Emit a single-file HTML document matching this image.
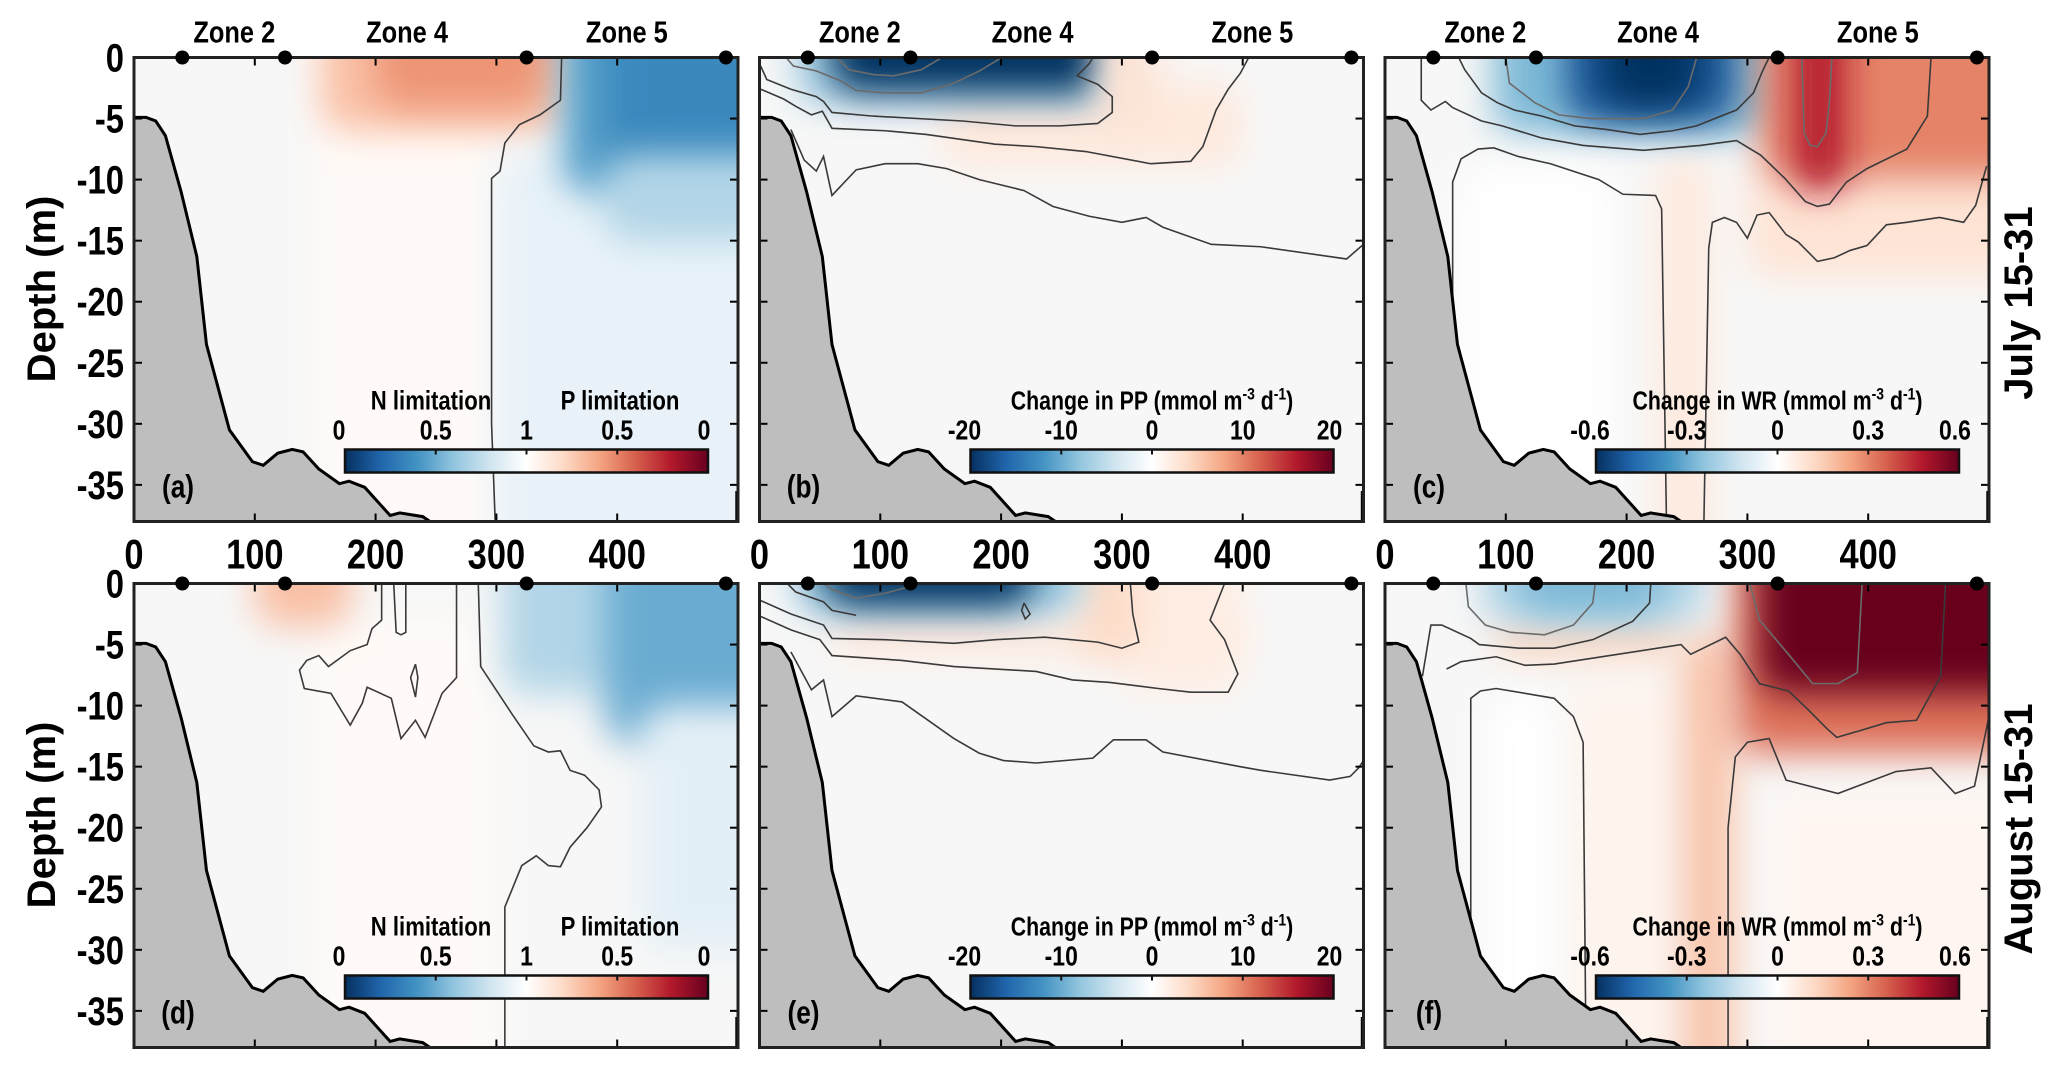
<!DOCTYPE html>
<html><head><meta charset="utf-8">
<style>
html,body{margin:0;padding:0;background:#fff;}
svg{display:block;font-family:"Liberation Sans",Arial,sans-serif;font-weight:bold;}
</style></head>
<body>
<svg id="fig" width="2067" height="1073" viewBox="0 0 2067 1073" xmlns="http://www.w3.org/2000/svg">
<defs>
<filter id="blur" filterUnits="userSpaceOnUse" x="-200" y="-200" width="2500" height="1500"><feGaussianBlur stdDeviation="18"/></filter>
<linearGradient id="cmap" x1="0" x2="1" y1="0" y2="0">
<stop offset="0" stop-color="#053061"/><stop offset="0.1" stop-color="#2166ac"/><stop offset="0.2" stop-color="#4393c3"/><stop offset="0.3" stop-color="#92c5de"/><stop offset="0.4" stop-color="#d1e5f0"/><stop offset="0.5" stop-color="#ffffff"/><stop offset="0.6" stop-color="#fddbc7"/><stop offset="0.7" stop-color="#f4a582"/><stop offset="0.8" stop-color="#d6604d"/><stop offset="0.9" stop-color="#b2182b"/><stop offset="1" stop-color="#67001f"/>
</linearGradient>
</defs>
</svg>
<script>
// ---- axis data ----
const xTicks=[0,100,200,300,400];
const yTicks=[0,-5,-10,-15,-20,-25,-30,-35];
const zoneDots=[40,125,325,490];
const zoneNames=["Zone 2","Zone 4","Zone 5"];
const zoneLabelX=[83,226,408];
const bathyX=[0,10,18,26,39,52,60,79,98,107,119,131,140,153,170,178,191,212,220,239,245];
const bathyD=[-4.9,-4.9,-5.2,-6.4,-11,-16.3,-23.5,-30.5,-33.1,-33.4,-32.4,-32.1,-32.3,-33.7,-34.9,-34.7,-35.2,-37.5,-37.3,-37.6,-38];
const panelLetters=["(a)","(b)","(c)","(d)","(e)","(f)"];
const cbTicksA=["0","0.5","1","0.5","0"];
const cbTicksPP=["-20","-10","0","10","20"];
const cbTicksWR=["-0.6","-0.3","0","0.3","0.6"];
// ---- field blobs: [x0,x1,d0,d1,value] ----
const fieldA=[[150,300,0,-38,0.03],[155,355,0,-6,0.3],[200,340,0,-4,0.45],[300,500,-8,-38,-0.1],[355,500,0,-11,-0.55],[390,500,0,-9,-0.65],[390,500,-8,-15,-0.3]];
const fieldB=[[150,400,-2,-9,0.12],[30,300,0,-3.8,-0.35],[60,285,0,-2.8,-1],[280,330,0,-6,0.15]];
const fieldC=[[225,270,-8,-38,0.12],[300,500,-9,-18,0.15],[90,325,0,-6.2,-0.45],[150,290,0,-5.3,-0.85],[180,260,0,-4,-1],[310,500,0,-10,0.5],[340,380,0,-11,0.8],[60,190,-9,-38,-0.001]];
const fieldD=[[150,300,-3,-38,0.03],[100,180,0,-3.5,0.3],[305,500,0,-9,-0.3],[390,500,0,-13,-0.5],[420,500,-10,-30,-0.12]];
const fieldE=[[60,400,-2.5,-6,0.12],[300,400,0,-9,0.1],[265,315,0,-6,0.2],[30,265,0,-2.4,-0.4],[55,225,0,-1.8,-1]];
const fieldF=[[150,240,-8,-38,0.06],[245,290,-4,-38,0.28],[90,250,-2.5,-6,0.22],[80,265,0,-3.2,-0.3],[110,230,0,-2.5,-0.45],[290,500,0,-14,0.55],[310,500,0,-9,1],[85,140,-9,-38,-0.001],[320,500,-17,-38,0.05]];
// ---- contours: x arrays / depth arrays ----
const contA=[{x:[354,353,336,319,307,303,296,296,299],d:[0,-3.5,-4.7,-5.5,-7,-9.3,-9.9,-30,-38]}];
const contB=[
{x:[23,28,47,67,80,104,134,161,182,199],d:[-0.1,-0.7,-1.1,-1.9,-2.7,-2.9,-2.9,-2.1,-1.1,-0.1],g:1},
{x:[64,74,94,111,134,151],d:[0,-1,-1.4,-1.5,-1,0],g:1},
{x:[1,6,26,47,53,60,94,168,212,249,280,292,292,280,263,273,276],d:[-0.7,-1.8,-2.6,-3.2,-3.6,-4.5,-4.8,-5.2,-5.6,-5.6,-5.4,-4.5,-3.2,-2.2,-1.5,-0.5,0]},
{x:[1,20,30,43,52,60,104,138,195,229,270,324,357,367,378,388,398,405],d:[-2.6,-3.4,-4,-4.7,-4.4,-5.8,-6,-6.3,-7.1,-7.3,-7.7,-8.7,-8.5,-7.3,-4.3,-2.6,-1.3,0]},
{x:[26,37,47,53,60,80,104,131,155,182,219,243,273,300,320,334,374,415,472,486,493,500],d:[-5.9,-8.4,-9.3,-8.1,-11.3,-9.2,-8.7,-8.7,-9.1,-10,-10.9,-12.2,-13,-13.5,-13.1,-13.9,-15.3,-15.5,-16.3,-16.5,-15.9,-15.3]}];
const contC=[
{x:[100,103,124,144,170,214,238,251,258],d:[0,-2.1,-3.7,-4.7,-5,-5,-4.3,-2.4,0],g:1},
{x:[61,66,80,93,107,130,157,184,211,238,258,278,291,305,313,318],d:[0,-1,-2.9,-3.7,-4.3,-4.8,-5.6,-5.9,-6.3,-6,-5.6,-4.8,-4.3,-2.9,-1,0]},
{x:[30,30,38,50,56,80,97,130,164,214,261,291,311,331,348,358,368,382,399,432,449,452],d:[0,-3.5,-4.3,-3.6,-4.1,-5.2,-5.6,-6.6,-7.2,-7.6,-7.2,-6.8,-8,-9.9,-11.8,-12.2,-12,-10.2,-9.1,-7.5,-4.8,0]},
{x:[56,56,63,77,90,110,137,177,197,224,229,233],d:[-20,-10.2,-8.3,-7.5,-7.4,-8.1,-8.7,-10,-11.2,-11.3,-12.4,-38]},
{x:[264,268,271,281,291,300,308,318,332,342,358,372,385,399,415,432,459,479,489,498],d:[-38,-15.6,-13.5,-13.1,-13.5,-14.8,-12.9,-12.7,-14.5,-15.1,-16.7,-16.4,-15.8,-15.4,-13.7,-13.5,-13.1,-13.5,-12.1,-8.9]},
{x:[345,347,352,358,365,368,370],d:[0,-6.2,-7.2,-7.3,-6.2,-3.5,0],g:1}];
const contD=[
{x:[307,307,321,333,343,353,361,375,387,385,373,361,353,343,331,313,287,285],d:[-38,-26.5,-23.1,-22.3,-23.1,-23.2,-21.6,-20,-18.3,-16.9,-15.7,-15.3,-13.7,-13.8,-13.3,-10.7,-6.8,0]},
{x:[267,267,255,241,233,221,213,193,189,179,163,141,137,143,153,161,179,193,197,205,205],d:[0,-7.7,-9,-12.6,-11.2,-12.7,-9.4,-8.5,-9.8,-11.6,-9,-8.6,-7.1,-6.3,-5.9,-6.8,-5.5,-5,-3.7,-3,0]},
{x:[215,217,221,225,225],d:[0,-4,-4.2,-4,0]},
{x:[233,229,233,235,233],d:[-6.6,-7.7,-9.3,-7.7,-6.6]}];
const contE=[
{x:[53,60,80,104,134],d:[0,-0.5,-1.2,-0.8,0],g:1},
{x:[23,30,53,60,80],d:[0,-0.7,-1.5,-2.2,-2.6]},
{x:[1,26,53,60,104,161,195,236,280,300,314,309,307],d:[-1.4,-2.5,-3.4,-4.5,-4.6,-4.9,-4.6,-4.4,-4.8,-5.3,-4.8,-2.5,0]},
{x:[1,26,50,60,118,161,229,259,290,330,357,388,396,385,373,385],d:[-2.7,-3.8,-4.6,-5.9,-6.3,-6.8,-7.2,-7.9,-8.1,-8.6,-8.9,-8.9,-7.4,-4.6,-3,0]},
{x:[26,43,53,60,80,118,161,182,202,229,276,293,320,334,398,415,472,489,496,500],d:[-5.6,-8.7,-7.9,-10.9,-9.2,-9.7,-12.7,-13.9,-14.5,-14.7,-14.3,-12.8,-12.8,-13.8,-15,-15.3,-16.1,-15.8,-15.1,-14.5]},
{x:[219,224,220,217,219],d:[-1.6,-2.5,-2.9,-2.2,-1.6]}];
const contF=[
{x:[67,69,83,104,132,156,172,174],d:[0,-1.9,-3.4,-4,-4.2,-3.4,-1.6,0],g:1},
{x:[31,38,47,71,78,111,140,172,205,219,220],d:[-7.6,-3.4,-3.4,-4.5,-5,-5.3,-5.3,-4.6,-3.1,-1.6,0]},
{x:[51,63,92,116,140,245,253,282,294,310,334,350,366,374,395,415,440,460,464],d:[-7,-6.4,-6,-6.7,-6.6,-5,-5.8,-4.4,-5.8,-8.2,-8.8,-10.3,-11.9,-12.6,-12,-11.4,-11.2,-7.6,0]},
{x:[302,310,334,354,375,391,395],d:[0,-3,-5.8,-8.2,-8.2,-7.3,0],g:1},
{x:[71,71,79,92,140,156,164,166,166],d:[-38,-9.4,-8.8,-8.6,-9.4,-10.9,-13,-34.2,-38]},
{x:[284,284,290,300,318,332,375,399,423,452,472,488,500],d:[-38,-20,-14.2,-13,-12.7,-16.1,-17.2,-16.3,-15.4,-15.1,-17.2,-16.6,-10.9]}];

const NS="http://www.w3.org/2000/svg";
const svg=document.getElementById('fig');
function mk(tag,attrs,parent){const e=document.createElementNS(NS,tag);for(const k in attrs)e.setAttribute(k,attrs[k]);(parent||svg).appendChild(e);return e;}
function ctext(str,x,y,size,anchor,parent,sxf){const t=mk('text',{x:0,y:0,'font-size':size,'text-anchor':anchor,transform:'translate('+x+','+y+') scale('+(sxf||0.82)+',1)'},parent);t.textContent=str;return t;}
const stops=["#053061","#2166ac","#4393c3","#92c5de","#d1e5f0","#ffffff","#fddbc7","#f4a582","#d6604d","#b2182b","#67001f"];
function hex(h){return [parseInt(h.substr(1,2),16),parseInt(h.substr(3,2),16),parseInt(h.substr(5,2),16)];}
function cmap(v){let t=(Math.max(-1,Math.min(1,v))+1)/2*10;let i=Math.min(9,Math.floor(t));let f=t-i;const a=hex(stops[i]),b=hex(stops[i+1]);return 'rgb('+a.map((c,k)=>Math.round(c+(b[k]-c)*f)).join(',')+')';}

const PW=604,PH=464,XMAX=500,DMIN=-38;
const cols=[134,759.5,1385],rows=[57.5,583.5];
const fields=[fieldA,fieldB,fieldC,fieldD,fieldE,fieldF];
const conts=[contA,contB,contC,contD,contE,contF];
const cbTitles=["A","PP","WR","A","PP","WR"];

for(let p=0;p<6;p++){
  const L=cols[p%3],T=rows[Math.floor(p/3)];
  const sx=v=>L+v/XMAX*PW, sy=d=>T+d/DMIN*PH;
  const g=mk('g',{});
  
  
  const cp=mk('clipPath',{id:'clip'+p},g);mk('rect',{x:L,y:T,width:PW,height:PH},cp);
  const plot=mk('g',{'clip-path':'url(#clip'+p+')'},g);
  mk('rect',{x:L,y:T,width:PW,height:PH,fill:'#f7f7f7'},plot);
  const fg=mk('g',{},plot);
  fields[p].forEach(b=>{
    const x0=b[0]<=0?-40:b[0], x1=b[1]>=500?540:b[1];
    const d0=b[2]>=0?4:b[2], d1=b[3]<=-38?-44:b[3];
    const r=mk('rect',{x:sx(x0),y:sy(d0),width:sx(x1)-sx(x0),height:sy(d1)-sy(d0),rx:25,fill:cmap(b[4]),filter:'url(#blur)'},fg);
    
    
  });
  conts[p].forEach(c=>{
    const pl=mk('polyline',{points:c.x.map((x,i)=>sx(x)+','+sy(c.d[i])).join(' '),fill:'none',stroke:c.g?'#6b6b6b':'#3a3a3a','stroke-width':1.6},plot);
    
    
  });
  let pts=bathyX.map((x,i)=>sx(x)+','+sy(bathyD[i])).join(' ');
  const bf=mk('polygon',{points:sx(0)+','+sy(-40)+' '+pts+' '+sx(245)+','+sy(-40),fill:'#bebebe'},plot);
  
  
  mk('polyline',{points:pts,fill:'none',stroke:'#000','stroke-width':3},plot);
  mk('line',{x1:sx(499),y1:sy(-35.5),x2:sx(499),y2:sy(-38),stroke:'#000','stroke-width':3},plot);
  xTicks.forEach(v=>{mk('line',{x1:sx(v),x2:sx(v),y1:T,y2:T+8,stroke:'#000','stroke-width':2},g);mk('line',{x1:sx(v),x2:sx(v),y1:T+PH,y2:T+PH-8,stroke:'#000','stroke-width':2},g);});
  yTicks.forEach(v=>{mk('line',{x1:L,x2:L+8,y1:sy(v),y2:sy(v),stroke:'#000','stroke-width':2},g);mk('line',{x1:L+PW,x2:L+PW-8,y1:sy(v),y2:sy(v),stroke:'#000','stroke-width':2},g);});
  const fr=mk('rect',{x:L,y:T,width:PW,height:PH,fill:'none',stroke:'#222','stroke-width':3},g);
  
  
  zoneDots.forEach(v=>{const c=mk('circle',{cx:sx(v),cy:T,r:7,fill:'#000'},g);});
  if(p<3){
    zoneNames.forEach((n,i)=>{const t=ctext(n,sx(zoneLabelX[i]),T-15,31,'middle',g);});
    xTicks.forEach(v=>{const t=ctext(String(v),sx(v),T+PH+47,42,'middle',g);});
  }
  if(p%3===0){
    yTicks.forEach(v=>{const t=ctext(String(v),L-10,sy(v)+14,40,'end',g);});
  }
  const cbx=L+211,cby=T+392,cbw=363,cbh=23;
  const cb=mk('g',{},g);
  
  
  mk('rect',{x:cbx,y:cby,width:cbw,height:cbh,fill:'url(#cmap)',stroke:'#111','stroke-width':2.5},cb);
  const labs=cbTitles[p]==="A"?cbTicksA:(cbTitles[p]==="PP"?cbTicksPP:cbTicksWR);
  labs.forEach((s,i)=>{const x=cbx+i*cbw/4;mk('line',{x1:x,x2:x,y1:cby,y2:cby+5,stroke:'#111','stroke-width':2},cb);const t=ctext(s,x-(i==0?6:0)+(i==4?-4:0),cby-10,28,'middle',cb);});
  if(cbTitles[p]==="A"){
    const t1=ctext("N limitation",L+297,cby-40,27,'middle',cb);
    const t2=ctext("P limitation",L+486,cby-40,27,'middle',cb);
  } else {
    const t=mk('text',{x:0,y:0,'font-size':26,'text-anchor':'middle',transform:'translate('+(cbx+cbw/2)+','+(cby-40)+') scale(0.82,1)'},cb);
    
    
    t.innerHTML='Change in '+cbTitles[p]+' (mmol m<tspan dy="-10" font-size="17">-3</tspan><tspan dy="10"> d</tspan><tspan dy="-10" font-size="17">-1</tspan><tspan dy="10">)</tspan>';
  }
  const pl=ctext(panelLetters[p],L+44,T+440,32,'middle',g);
  
  
}
function rot(txt,x,y,name){const t=mk('text',{x:0,y:0,'font-size':40,'text-anchor':'middle',transform:'translate('+x+','+y+') rotate(-90)'});t.textContent=txt;}
rot('Depth (m)',55,289,'y-axis-title-top');
rot('Depth (m)',55,815,'y-axis-title-bottom');
rot('July 15-31',2032,303,'row-label-july');
rot('August 15-31',2032,829,'row-label-august');
</script>
</body></html>
